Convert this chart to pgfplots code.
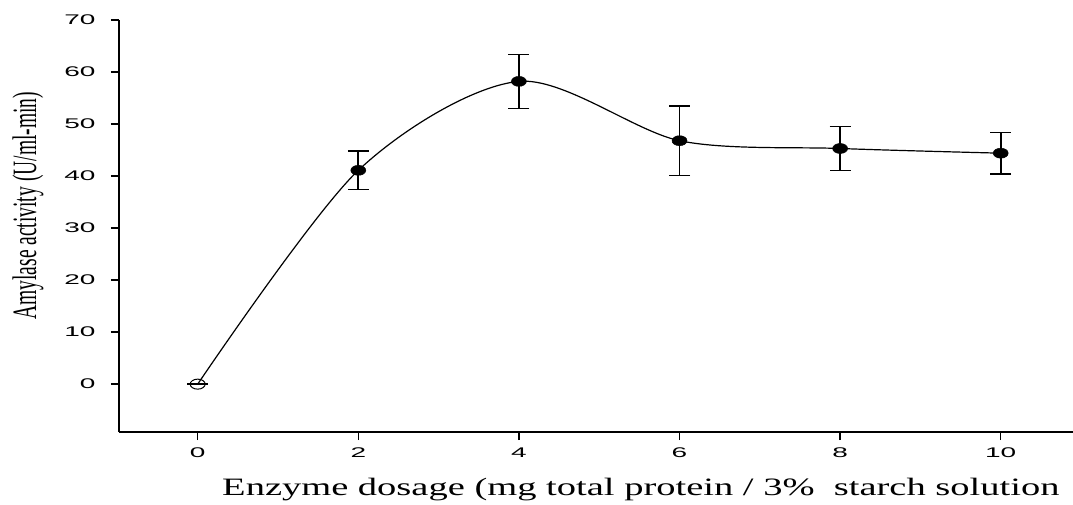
\documentclass[border=0pt]{standalone}
\usepackage{fontspec}
\setmainfont{Liberation Serif}
\newfontfamily\arialfont{Liberation Sans}
\usepackage{graphicx}
\usepackage{pgfplots}
\usepackage{pgfplotstable}
\pgfplotsset{compat=1.18}

% enzyme dosage vs amylase activity, with SD
\pgfplotstableread{
x   y     err
0   0     0
2   41.1  3.7
4   58.2  5.2
6   46.8  6.7
8   45.3  4.2
10  44.4  4.0
}\dosage

\newcommand\tl[1]{\scalebox{2.0}[1]{\arialfont\fontsize{14}{15}\selectfont #1}}

\begin{document}
\begin{tikzpicture}
\useasboundingbox (-119pt,-72pt) rectangle (954pt,432pt);
\begin{axis}[
  scale only axis, width=954pt, height=412pt,
  xmin=-0.98, xmax=10.9, ymin=-9.2, ymax=70,
  axis x line*=bottom, axis y line*=left,
  axis line style={line width=1.8pt, -},
  xtick={0,2,4,6,8,10}, ytick={0,10,20,30,40,50,60,70},
  xticklabels={\tl{0},\tl{2},\tl{4},\tl{6},\tl{8},\tl{10}},
  yticklabels={\tl{0},\tl{10},\tl{20},\tl{30},\tl{40},\tl{50},\tl{60},\tl{70}},
  tick align=outside, major tick length=8pt,
  tick style={line width=1.5pt, black},
  xticklabel style={yshift=-4pt},
  yticklabel style={xshift=-12pt},
  xlabel={\scalebox{1.54}[1]{Enzyme dosage (mg total protein / 3\%\ \ starch solution}},
  xlabel style={font=\fontsize{25}{28}\selectfont, at={(axis description cs:0.547,-0.1553)}, anchor=base},
  ylabel={\scalebox{1}[1.75]{Amylase activity (U/ml-min)}},
  ylabel style={font=\fontsize{19.5}{22}\selectfont, at={(axis description cs:-0.0954,0.549)}, anchor=center},
]
\addplot[line width=1.2pt, smooth, no marks] table[x=x, y=y] {\dosage};
\addplot[only marks, mark=*, mark size=5pt, mark options={xscale=1.5, fill=black, line width=0.5pt},
  skip coords between index={0}{1},
  error bars/.cd, y dir=both, y explicit,
  error bar style={line width=1.8pt},
  error mark options={rotate=90, mark size=10.5pt, line width=1.4pt}]
  table[x=x, y=y, y error=err] {\dosage};
\addplot[only marks, mark=o, mark size=5pt, mark options={xscale=1.5, line width=1pt},
  skip coords between index={1}{6},
  error bars/.cd, y dir=both, y explicit,
  error mark options={rotate=90, mark size=10.5pt, line width=1.4pt}]
  table[x=x, y=y, y error=err] {\dosage};
\end{axis}
\end{tikzpicture}
\end{document}
